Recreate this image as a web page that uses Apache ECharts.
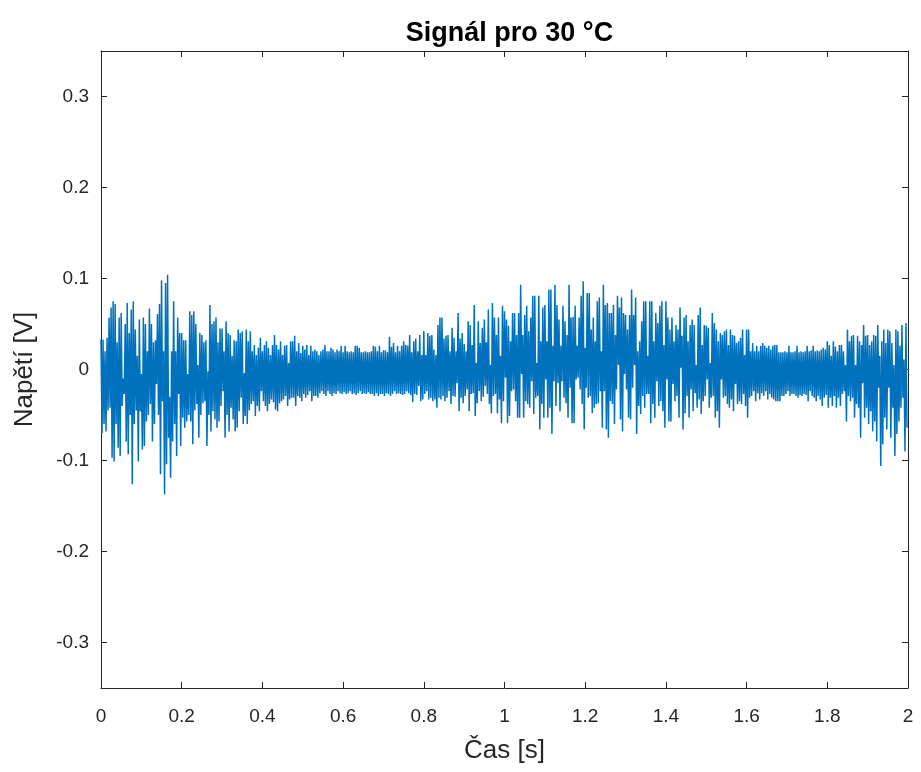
<!DOCTYPE html>
<html><head><meta charset="utf-8">
<script src="https://cdn.jsdelivr.net/npm/echarts@6/dist/echarts.min.js"></script>
<style>html,body{margin:0;padding:0;background:#fff}#c{width:921px;height:772px}</style>
</head><body><div id="c"></div>
<script>
const chartTitle = 'Signál pro 30 °C';
const xAxisName = 'Čas [s]';
const yAxisName = 'Napětí [V]';
const xTicks = [0, 0.2, 0.4, 0.6, 0.8, 1, 1.2, 1.4, 1.6, 1.8, 2];
const yTicks = [-0.3, -0.2, -0.1, 0, 0.1, 0.2, 0.3];
const xRange = [0, 2];
const yRange = [-0.35, 0.35];
const sampleInterval = 0.0025; // s between samples

// local maxima (even samples)
const upperPeaks = [
0.033,0.033,0.020,0.035,0.057,0.068,0.075,0.072,0.030,0.057,
0.062,-0.010,0.050,0.073,0.040,0.066,0.075,0.044,0.015,0.055,
-0.005,0.057,0.050,0.020,0.067,0.050,0.030,0.032,0.061,0.072,
0.098,0.020,0.095,0.104,-0.030,0.020,0.075,0.020,0.057,0.040,
0.040,0.032,0.032,-0.005,0.064,0.060,0.064,0.050,0.005,0.040,
0.038,0.030,0.032,-0.002,0.071,0.050,0.053,0.057,0.030,0.045,
0.045,0.020,0.053,0.040,0.038,0.015,0.032,
0.031,0.044,0.040,0.042,-0.004,0.044,0.031,0.042,0.020,0.027,
0.016,0.024,0.035,0.020,0.027,0.031,0.024,0.016,0.027,0.038,
0.027,0.022,0.031,0.016,0.026,0.027,0.007,0.031,0.031,0.037,
0.020,0.029,0.018,0.026,0.022,0.027,0.016,0.026,0.020,0.022,
0.020,0.016,0.020,0.022,0.027,0.020,0.020,0.024,0.022,0.019,
0.022,0.020,0.026,0.019,0.026,0.020,0.019,0.020,0.019,0.026,
0.026,0.024,0.019,0.019,0.020,0.019,0.019,
0.020,0.026,0.025,0.020,0.026,0.019,0.021,0.021,0.019,0.036,
0.025,0.029,0.019,0.026,0.020,0.026,0.031,0.027,0.026,0.038,
0.019,0.031,0.034,0.020,0.038,0.016,0.042,0.016,0.040,0.037,
0.038,0.022,0.016,0.049,0.057,0.057,0.034,0.037,0.038,0.020,
0.046,0.035,0.020,0.062,0.034,0.040,0.028,0.020,0.053,0.049,
0.027,0.071,0.007,0.053,0.029,0.046,0.055,0.030,0.066,0.005,
0.073,0.057,0.038,0.057,0.015,0.070,0.064,
0.055,0.048,0.031,0.062,0.062,0.038,0.062,0.093,0.038,0.060,
0.070,0.042,0.057,0.081,0.081,0.007,0.081,0.031,0.068,0.071,
0.031,0.088,0.088,0.026,0.093,0.071,0.055,0.026,0.070,0.053,
0.038,0.093,0.057,0.058,0.070,0.026,0.057,0.081,0.097,0.024,
0.084,0.084,0.044,0.057,0.031,0.075,0.079,0.020,0.093,0.071,
0.073,0.062,0.062,0.071,0.038,0.081,0.068,0.079,0.062,0.060,
0.044,0.060,0.088,0.060,0.079,0.020,
0.031,0.053,0.075,0.075,0.015,0.075,0.075,0.031,0.062,0.051,
0.070,0.075,0.027,0.075,0.057,0.044,0.057,0.031,0.049,0.044,
0.068,0.037,0.057,0.060,0.031,0.049,0.055,0.049,0.005,0.060,
0.068,0.027,0.049,0.048,0.046,0.007,0.062,0.051,0.044,0.031,
0.040,0.038,0.042,0.044,0.027,0.044,0.038,0.037,0.029,0.031,
0.035,0.044,0.016,0.044,0.044,0.020,0.029,0.020,0.026,0.020,
0.026,0.029,0.026,0.024,0.026,0.022,0.026,
0.027,0.027,0.019,0.019,0.019,0.020,0.019,0.026,0.019,0.019,
0.020,0.026,0.019,0.020,0.019,0.020,0.026,0.020,0.021,0.026,
0.020,0.021,0.020,0.022,0.024,0.022,0.031,0.027,0.015,0.031,
0.025,0.020,0.027,0.027,0.020,0.005,0.044,0.031,0.037,0.038,
0.005,0.037,0.031,0.027,0.049,0.037,0.038,0.027,0.031,0.038,
0.037,0.049,0.015,0.031,0.044,0.029,0.044,0.042,0.029,0.005,
0.044,0.042,0.026,0.049,0.011,0.051
];

// local minima (odd samples)
const lowerPeaks = [
-0.070,-0.060,-0.068,-0.045,-0.042,-0.097,-0.101,-0.060,-0.086,-0.095,
-0.040,-0.027,-0.079,-0.093,-0.050,-0.126,-0.060,-0.045,-0.101,-0.046,
-0.088,-0.084,-0.057,-0.050,-0.038,-0.079,-0.060,-0.016,-0.050,-0.115,
-0.035,-0.137,-0.104,-0.075,-0.119,-0.079,-0.060,-0.095,-0.027,-0.084,
-0.053,-0.064,-0.057,-0.050,-0.057,-0.082,-0.045,-0.038,-0.075,-0.050,
-0.037,-0.035,-0.084,-0.050,-0.068,-0.046,-0.055,-0.064,-0.057,-0.040,
-0.024,-0.075,-0.050,-0.068,-0.042,-0.055,-0.068,
-0.064,-0.046,-0.031,-0.060,-0.051,-0.060,-0.045,-0.038,-0.035,-0.051,
-0.040,-0.046,-0.024,-0.035,-0.040,-0.046,-0.038,-0.033,-0.036,-0.044,
-0.046,-0.037,-0.035,-0.033,-0.029,-0.040,-0.033,-0.031,-0.031,-0.040,
-0.029,-0.031,-0.035,-0.027,-0.031,-0.028,-0.024,-0.035,-0.029,-0.029,
-0.031,-0.026,-0.024,-0.027,-0.029,-0.024,-0.027,-0.029,-0.026,-0.027,
-0.024,-0.026,-0.027,-0.025,-0.027,-0.026,-0.024,-0.027,-0.026,-0.028,
-0.026,-0.024,-0.027,-0.026,-0.027,-0.025,-0.027,
-0.027,-0.029,-0.026,-0.029,-0.027,-0.027,-0.029,-0.026,-0.027,-0.029,
-0.027,-0.024,-0.027,-0.026,-0.027,-0.028,-0.027,-0.024,-0.026,-0.028,
-0.036,-0.027,-0.028,-0.018,-0.035,-0.033,-0.027,-0.024,-0.033,-0.031,
-0.035,-0.033,-0.042,-0.031,-0.033,-0.029,-0.035,-0.031,-0.024,-0.038,
-0.029,-0.030,-0.015,-0.046,-0.031,-0.037,-0.029,-0.022,-0.046,-0.027,
-0.026,-0.051,-0.037,-0.024,-0.035,-0.030,-0.018,-0.027,-0.038,-0.048,
-0.029,-0.027,-0.048,-0.033,-0.059,-0.035,-0.009,
-0.059,-0.051,-0.024,-0.022,-0.035,-0.053,-0.053,-0.005,-0.053,-0.035,
-0.038,-0.042,-0.013,-0.049,-0.031,-0.029,-0.066,-0.038,-0.053,-0.011,
-0.053,-0.042,-0.071,-0.013,-0.040,-0.015,-0.046,-0.013,-0.031,-0.037,
-0.053,-0.020,-0.059,-0.059,-0.011,-0.009,-0.022,-0.038,-0.066,-0.020,
-0.031,-0.029,-0.048,-0.042,-0.038,-0.037,-0.024,-0.064,-0.024,-0.066,
-0.075,-0.035,-0.038,-0.060,-0.022,0.005,-0.055,-0.068,-0.005,-0.022,
-0.053,-0.055,-0.020,0.005,-0.071,-0.040,
-0.049,-0.029,-0.042,-0.027,-0.027,-0.059,-0.038,-0.053,-0.013,-0.040,
-0.035,-0.046,-0.064,-0.011,-0.057,-0.057,-0.016,-0.035,-0.029,-0.053,
0.002,-0.066,-0.048,-0.029,-0.053,-0.022,-0.046,-0.026,-0.042,-0.033,
-0.049,-0.035,-0.029,-0.011,-0.042,-0.031,-0.029,-0.053,-0.046,-0.064,
-0.011,-0.031,-0.029,-0.038,-0.042,-0.033,-0.046,-0.016,-0.038,-0.035,
-0.038,-0.027,-0.040,-0.053,-0.031,-0.029,-0.024,-0.035,-0.026,-0.033,
-0.026,-0.029,-0.024,-0.033,-0.027,-0.031,-0.033,
-0.035,-0.035,-0.035,-0.029,-0.029,-0.027,-0.024,-0.029,-0.027,-0.027,
-0.029,-0.031,-0.028,-0.029,-0.027,-0.028,-0.035,-0.024,-0.029,-0.031,
-0.035,-0.029,-0.033,-0.040,-0.031,-0.028,-0.042,-0.031,-0.040,-0.029,
-0.042,-0.031,-0.040,-0.027,-0.024,-0.057,-0.029,-0.035,-0.031,-0.053,
-0.038,-0.042,-0.075,-0.015,-0.053,-0.042,-0.060,-0.046,-0.068,-0.057,
-0.079,-0.020,-0.106,-0.082,-0.053,-0.066,-0.020,-0.075,-0.042,-0.095,
-0.071,-0.057,-0.042,-0.031,-0.090,-0.064
];

// build the sample sequence: maxima and minima alternate in time
const samples = [];
for (let k = 0; k < upperPeaks.length; k++) {
  samples.push([2 * k * sampleInterval, upperPeaks[k]]);
  samples.push([(2 * k + 1) * sampleInterval, lowerPeaks[k]]);
}

const axisColor = '#262626';
const fontFamily = 'Liberation Sans, Arial, Helvetica, sans-serif';
const fmt = v => String(+(+v).toFixed(2));

const baseAxis = (ticks, range) => ({
  type: 'value', min: range[0], max: range[1],
  splitLine: { show: false },
  axisLine: { show: true, onZero: false, lineStyle: { color: axisColor, width: 1 } },
  axisTick: { show: true, inside: true, length: 6, customValues: ticks, lineStyle: { color: axisColor } },
  axisLabel: { show: true, customValues: ticks, formatter: fmt, color: axisColor, fontSize: 19, fontFamily }
});

const chart = echarts.init(document.getElementById('c'), null, { renderer: 'canvas' });
chart.setOption({
  animation: false,
  backgroundColor: '#ffffff',
  title: {
    text: chartTitle, left: 504.5, textAlign: 'center', top: 15,
    textStyle: { fontSize: 27, fontWeight: 'bold', color: '#000', fontFamily }
  },
  grid: { left: 101, right: 13, top: 51, bottom: 84, containLabel: false },
  xAxis: [
    Object.assign(baseAxis(xTicks, xRange), {
      position: 'bottom', name: xAxisName, nameLocation: 'middle', nameGap: 50,
      nameTextStyle: { fontSize: 26, color: axisColor, fontFamily },
      axisLabel: Object.assign(baseAxis(xTicks, xRange).axisLabel, { margin: 19 })
    }),
    Object.assign(baseAxis(xTicks, xRange), { position: 'top', axisLabel: { show: false } })
  ],
  yAxis: [
    Object.assign(baseAxis(yTicks, yRange), {
      position: 'left', name: yAxisName, nameLocation: 'middle', nameGap: 63,
      nameTextStyle: { fontSize: 26, color: axisColor, fontFamily },
      axisLabel: Object.assign(baseAxis(yTicks, yRange).axisLabel, { margin: 12 })
    }),
    Object.assign(baseAxis(yTicks, yRange), { position: 'right', axisLabel: { show: false } })
  ],
  series: [{
    type: 'line', data: samples, xAxisIndex: 0, yAxisIndex: 0,
    showSymbol: false, symbol: 'none', sampling: false,
    lineStyle: { color: '#0072BD', width: 1.5 },
    emphasis: { disabled: true }
  }]
});
</script>
</body></html>
